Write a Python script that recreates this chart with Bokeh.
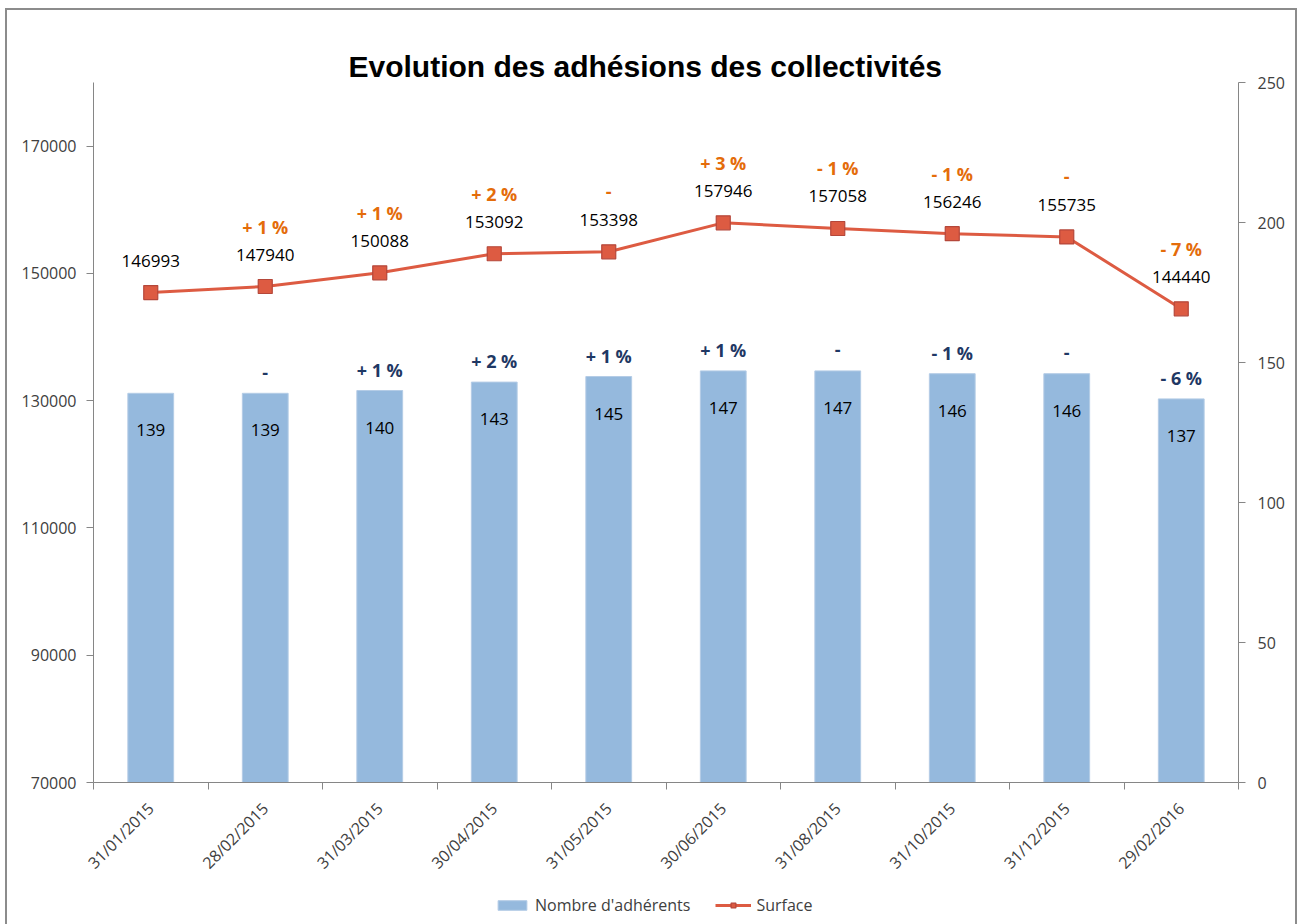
from math import pi
from bokeh.plotting import figure
from bokeh.layouts import column
from bokeh.models import (ColumnDataSource, Range1d, LinearAxis, FixedTicker,
                          Legend, LegendItem, BasicTickFormatter)
from bokeh.core.properties import value
from bokeh.embed import file_html
from bokeh.resources import INLINE

# ---- data ----
dates = ["31/01/2015", "28/02/2015", "31/03/2015", "30/04/2015", "31/05/2015",
         "30/06/2015", "31/08/2015", "31/10/2015", "31/12/2015", "29/02/2016"]
adherents = [139, 139, 140, 143, 145, 147, 147, 146, 146, 137]
surface = [146993, 147940, 150088, 153092, 153398, 157946, 157058, 156246, 155735, 144440]
surface_pct = ["", "+ 1 %", "+ 1 %", "+ 2 %", "-", "+ 3 %", "- 1 %", "- 1 %", "-", "- 7 %"]
adherents_pct = ["", "-", "+ 1 %", "+ 2 %", "+ 1 %", "+ 1 %", "-", "- 1 %", "-", "- 6 %"]
left_ticks = [70000, 90000, 110000, 130000, 150000, 170000]
right_ticks = [0, 50, 100, 150, 200, 250]

FONT = "Open Sans"
AX_COL = "#868686"
LBL_COL = "#404040"
BAR_COL = "#95B9DD"
BAR_EDGE = "#B4CCE6"
LINE_COL = "#DD5B42"
MARK_EDGE = "#B5473A"
ORANGE = "#E46C0A"
NAVY = "#1F3864"

idx = list(range(len(dates)))
src = ColumnDataSource(dict(
    x=idx, adh=adherents, surf=surface,
    adh_lbl=[str(v) for v in adherents],
    surf_lbl=[str(v) for v in surface],
    adh_pct=adherents_pct, surf_pct=surface_pct,
))

p = figure(width=1288, height=874,
           x_range=Range1d(-0.5, len(dates) - 0.5),
           y_range=Range1d(70000, 180000),
           output_backend="svg", toolbar_location=None,
           min_border_left=86, min_border_right=57,
           min_border_top=72, min_border_bottom=100)
p.extra_y_ranges = {"right": Range1d(0, 250)}

p.title.text = "Evolution des adhésions des collectivités"
p.title.align = "left"
p.title.offset = 255
p.title.text_font = "Liberation Sans"
p.title.text_font_style = "bold"
p.title.text_font_size = "30px"
p.title.text_color = "#000000"
p.title.standoff = 0

p.xgrid.visible = False
p.ygrid.visible = False
p.outline_line_color = None
p.background_fill_color = "white"
p.border_fill_color = "white"

# bars (right axis)
bars = p.vbar(x="x", top="adh", bottom=0, width=0.4, source=src, y_range_name="right",
              fill_color=BAR_COL, line_color=BAR_EDGE, line_width=1)

# line (left axis)
ln = p.line(x="x", y="surf", source=src, line_color=LINE_COL, line_width=3)
sc = p.scatter(x="x", y="surf", source=src, marker="square", size=14,
               fill_color=LINE_COL, line_color=MARK_EDGE, line_width=1.2)

# labels
p.text(x="x", y="adh", text="adh_lbl", source=src, y_range_name="right",
       y_offset=37, text_align="center", text_baseline="middle",
       text_font=value(FONT), text_font_size="17px", text_color="#000000")
p.text(x="x", y="adh", text="adh_pct", source=src, y_range_name="right",
       y_offset=-21, text_align="center", text_baseline="middle",
       text_font=value(FONT), text_font_size="18px", text_font_style="bold",
       text_color=NAVY)
p.text(x="x", y="surf", text="surf_lbl", source=src,
       y_offset=-32, text_align="center", text_baseline="middle",
       text_font=value(FONT), text_font_size="17px", text_color="#000000")
p.text(x="x", y="surf", text="surf_pct", source=src,
       y_offset=-60, text_align="center", text_baseline="middle",
       text_font=value(FONT), text_font_size="18px", text_font_style="bold",
       text_color=ORANGE)

# axes
right_axis = LinearAxis(y_range_name="right", ticker=FixedTicker(ticks=right_ticks))
p.add_layout(right_axis, "right")

p.yaxis[0].ticker = FixedTicker(ticks=left_ticks)
p.yaxis[0].formatter = BasicTickFormatter(use_scientific=False)
p.xaxis[0].ticker = FixedTicker(ticks=idx, minor_ticks=[i - 0.5 for i in range(len(dates) + 1)])
p.xaxis[0].major_label_overrides = {i: d for i, d in enumerate(dates)}
p.xaxis[0].major_label_orientation = pi / 4

for ax in p.axis:
    ax.axis_line_color = AX_COL
    ax.axis_line_width = 1
    ax.major_tick_line_color = AX_COL
    ax.minor_tick_line_color = None
    ax.major_tick_in = 0
    ax.major_tick_out = 7
    ax.major_label_text_font = FONT
    ax.major_label_text_font_size = "16px"
    ax.major_label_text_color = LBL_COL
    ax.major_label_standoff = 10

p.xaxis[0].major_tick_out = 0
p.xaxis[0].minor_tick_line_color = AX_COL
p.xaxis[0].minor_tick_in = 0
p.xaxis[0].minor_tick_out = 7
p.xaxis[0].major_label_standoff = 16
right_axis.major_label_standoff = 12

# ---- legend strip below the chart ----
lf = figure(width=1288, height=40, x_axis_type=None, y_axis_type=None,
            x_range=Range1d(-0.5, len(dates) - 0.5), y_range=Range1d(0, 250),
            output_backend="svg", toolbar_location=None, min_border=0)
lf.outline_line_color = None
lf.background_fill_color = "white"
lf.border_fill_color = "white"
lb = lf.vbar(x="x", top="adh", width=0.4, source=src, visible=False,
             fill_color=BAR_COL, line_color=BAR_EDGE, line_width=1)
ll = lf.line(x="x", y="adh", source=src, visible=False,
             line_color=LINE_COL, line_width=3)
ls = lf.scatter(x="x", y="adh", source=src, marker="square", size=12, visible=False,
                fill_color=LINE_COL, line_color=MARK_EDGE, line_width=1.2)
legend = Legend(items=[LegendItem(label="Nombre d'adhérents", renderers=[lb]),
                       LegendItem(label="Surface", renderers=[ll, ls])],
                orientation="horizontal", location=(401, 8),
                border_line_color=None, background_fill_alpha=0,
                inactive_fill_alpha=0,
                label_text_font=FONT, label_text_font_size="16px",
                label_text_color=LBL_COL, glyph_width=36, glyph_height=12,
                spacing=25, label_standoff=5, padding=0, margin=0)
lf.add_layout(legend)

layout = column(p, lf, spacing=0, margin=(10, 0, 0, 7),
                styles={"outline": "2px solid #8c8c8c", "outline-offset": "0px"})

open("out.html", "w").write(file_html(layout, INLINE))
